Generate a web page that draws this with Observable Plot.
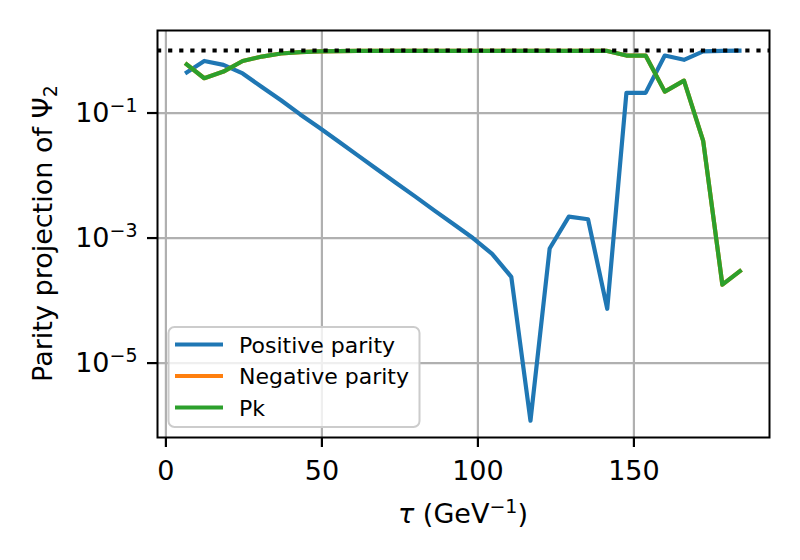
<!DOCTYPE html>
<html>
<head>
<meta charset="utf-8">
<script src="https://cdn.jsdelivr.net/npm/d3@7"></script>
<script src="https://cdn.jsdelivr.net/npm/@observablehq/plot@0.6"></script>
<style>
  body { margin: 0; background: #fff; }
  #chart { position: relative; width: 800px; height: 560px; }
</style>
</head>
<body>
<div id="chart"></div>
<script>
// ---- data ----
const tau = [6.15, 12.3, 18.45, 24.6, 30.75, 36.9, 43.05, 49.2, 55.35, 61.5,
             67.65, 73.8, 79.95, 86.1, 92.25, 98.4, 104.55, 110.7, 116.85, 123.0,
             129.15, 135.3, 141.45, 147.6, 153.75, 159.9, 166.05, 172.2, 178.35, 184.5];

const positiveParity = [0.43, 0.68, 0.59, 0.43, 0.26, 0.16, 0.095, 0.058, 0.035, 0.021,
                        0.0126, 0.0076, 0.0046, 0.00275, 0.00166, 0.0010, 0.00056, 0.00024, 1.2e-6, 0.00068,
                        0.0022, 0.0020, 7.4e-5, 0.21, 0.21, 0.83, 0.71, 0.97, 0.99, 0.995];

const negativeParity = [0.63, 0.36, 0.46, 0.68, 0.80, 0.895, 0.945, 0.97, 0.98, 0.985,
                        0.985, 0.985, 0.985, 0.985, 0.985, 0.985, 0.985, 0.985, 0.985, 0.985,
                        0.985, 0.985, 0.985, 0.83, 0.83, 0.22, 0.33, 0.036, 1.8e-4, 3.1e-4];

const pk = [0.63, 0.36, 0.46, 0.68, 0.80, 0.895, 0.945, 0.97, 0.98, 0.985,
            0.985, 0.985, 0.985, 0.985, 0.985, 0.985, 0.985, 0.985, 0.985, 0.985,
            0.985, 0.985, 0.985, 0.83, 0.83, 0.22, 0.33, 0.036, 1.8e-4, 3.1e-4];

const seriesNames = ["Positive parity", "Negative parity", "Pk"];
const seriesColors = ["#1f77b4", "#ff7f0e", "#2ca02c"];
const seriesValues = [positiveParity, negativeParity, pk];

const xTicks = [0, 50, 100, 150];
const yTicks = [1e-1, 1e-3, 1e-5];
const referenceLevel = [1];

const xDomain = [-2.69, 193.46];
const yDomain = [Math.pow(10, -6.19), Math.pow(10, 0.32)];

// ---- build ----
const rows = seriesValues.map(vals => tau.map((t, i) => ({tau: t, v: vals[i]})));

const FONT = "DejaVu Sans";

const svg = Plot.plot({
  width: 800,
  height: 560,
  marginLeft: 157,
  marginRight: 31,
  marginTop: 30,
  marginBottom: 123,
  style: {fontFamily: FONT, background: "white", color: "black"},
  x: {domain: xDomain, label: null},
  y: {type: "log", domain: yDomain, label: null},
  marks: [
    Plot.gridX(xTicks, {stroke: "#b0b0b0", strokeOpacity: 1, strokeWidth: 2.2}),
    Plot.gridY(yTicks, {stroke: "#b0b0b0", strokeOpacity: 1, strokeWidth: 2.2}),
    ...rows.map((r, i) => Plot.line(r, {x: "tau", y: "v", stroke: seriesColors[i], strokeWidth: 4.2, strokeLinejoin: "round", strokeLinecap: "butt"})),
    Plot.ruleY(referenceLevel, {stroke: "black", strokeWidth: 4.2, strokeDasharray: "4.2,6.9"}),
    Plot.frame({stroke: "black", strokeWidth: 2}),
    Plot.axisX({ticks: xTicks, tickSize: 10, tickPadding: 13, fontSize: 27, strokeWidth: 2.2, label: null, tickFormat: d => String(d)}),
    Plot.axisY({ticks: yTicks, tickSize: 10, tickPadding: 10, fontSize: 27, strokeWidth: 2.2, label: null,
                tickFormat: d => "10^" + Math.round(Math.log10(d))})
  ]
});

document.getElementById("chart").appendChild(svg);

const s = d3.select(svg);

// superscript exponents on y tick labels
s.selectAll('g[aria-label="y-axis tick label"] text').each(function() {
  const t = d3.select(this);
  const str = t.text();
  const parts = str.split("^");
  if (parts.length !== 2) return;
  t.text(null);
  t.append("tspan").text(parts[0]);
  t.append("tspan").attr("dy", -10).attr("font-size", 19).text(parts[1].replace("-", "\u2212"));
});

// x axis label
const xl = s.append("text")
  .attr("x", (157 + 769) / 2).attr("y", 523)
  .attr("text-anchor", "middle")
  .attr("font-family", FONT).attr("font-size", 27).attr("fill", "black");
xl.append("tspan").attr("font-style", "italic").text("τ");
xl.append("tspan").text(" (GeV");
xl.append("tspan").attr("dy", -10).attr("font-size", 19).text("\u22121");
xl.append("tspan").attr("dy", 10).text(")");

// y axis label
const yl = s.append("text")
  .attr("transform", "translate(52,233.5) rotate(-90)")
  .attr("text-anchor", "middle")
  .attr("font-family", FONT).attr("font-size", 27).attr("fill", "black");
yl.append("tspan").text("Parity projection of Ψ");
yl.append("tspan").attr("dy", 5).attr("font-size", 19).text("2");

// legend
const lg = s.append("g").attr("font-family", FONT).attr("text-anchor", "start");
lg.append("rect")
  .attr("x", 168.5).attr("y", 327).attr("width", 251).attr("height", 100)
  .attr("rx", 6).attr("fill", "white").attr("fill-opacity", 0.8)
  .attr("stroke", "#cccccc").attr("stroke-width", 2);
seriesNames.forEach((name, i) => {
  const yy = 344.5 + i * 31.5;
  lg.append("line").attr("x1", 175).attr("x2", 223).attr("y1", yy).attr("y2", yy)
    .attr("stroke", seriesColors[i]).attr("stroke-width", 4.2);
  lg.append("text").attr("x", 239).attr("y", yy + 8).attr("text-anchor", "start")
    .attr("font-size", 22).attr("fill", "black").text(name);
});
</script>
</body>
</html>
